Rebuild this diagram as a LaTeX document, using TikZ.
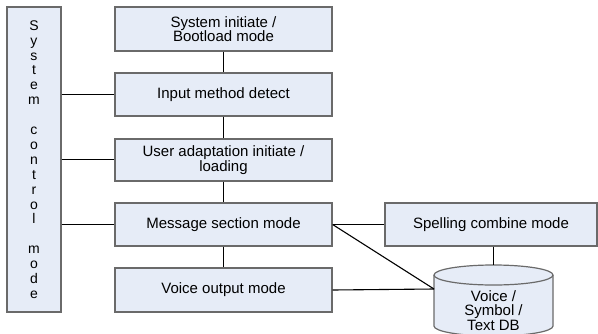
\documentclass[tikz,border=0pt]{standalone}
\usepackage{fontspec}
\setmainfont{Liberation Sans}
\definecolor{boxfill}{HTML}{E6ECF7}
\definecolor{boxline}{HTML}{6A6A6A}
\tikzset{
  blk/.style={draw=boxline, fill=boxfill, line width=1.2pt, minimum width=217pt,
    inner sep=0pt, align=center, font=\fontsize{15}{14.5}\selectfont},
  conn/.style={draw=black, line width=1.1pt},
}
\begin{document}
\begin{tikzpicture}[x=1pt,y=-1pt]
\clip (0,0) rectangle (598,333);
\fill[white] (0,0) rectangle (598,333);
% left system control box
\node[blk, minimum width=54pt, minimum height=305pt, font=\fontsize{14}{14.9}\selectfont] (sys) at (34,159.5)
  {S\\y\\s\\t\\e\\m\\~\\c\\o\\n\\t\\r\\o\\l\\~\\m\\o\\d\\e};
% main column
\node[blk, minimum height=44pt] (b1) at (223.5,29) {System initiate /\\Bootload mode};
\node[blk, minimum height=43pt] (b2) at (223.5,94.5) {Input method detect};
\node[blk, minimum height=42pt] (b3) at (223.5,160) {User adaptation initiate /\\loading};
\node[blk, minimum height=43pt] (b4) at (223.5,224.5) {Message section mode};
\node[blk, minimum height=44pt] (b5) at (223.5,290) {Voice output mode};
\node[blk, minimum width=212pt, minimum height=43pt] (sp) at (491,224.5) {Spelling combine mode};
% database cylinder
\coordinate (cyltop) at (493.5,265);
\coordinate (cylleft) at (434,289);
\path[draw=boxline, fill=boxfill, line width=1.2pt]
  (434,275) -- (434,326) arc[start angle=180,end angle=360,x radius=59.5pt,y radius=10pt]
  -- (553,275) arc[start angle=0,end angle=180,x radius=59.5pt,y radius=10pt] -- cycle;
\draw[draw=boxline, line width=1.2pt] (434,275) arc[start angle=180,end angle=360,x radius=59.5pt,y radius=10pt];
\node[align=center, font=\fontsize{15}{14.5}\selectfont, inner sep=0pt] (db) at (493.5,310.5) {Voice /\\Symbol /\\Text DB};
% connectors
\draw[conn] (b1.south) -- (b2.north);
\draw[conn] (b2.south) -- (b3.north);
\draw[conn] (b3.south) -- (b4.north);
\draw[conn] (b4.south) -- (b5.north);
\draw[conn] (sys.east |- b2.west) -- (b2.west);
\draw[conn] (sys.east |- 0,159.5) -- (b3.west |- 0,159.5);
\draw[conn] (sys.east |- b4.west) -- (b4.west);
\draw[conn] (b4.east) -- (sp.west);
\draw[conn] (b4.east) -- (cylleft);
\draw[conn] (b5.east) -- (cylleft);
\draw[conn] (cyltop |- sp.south) -- (cyltop);
\end{tikzpicture}
\end{document}
